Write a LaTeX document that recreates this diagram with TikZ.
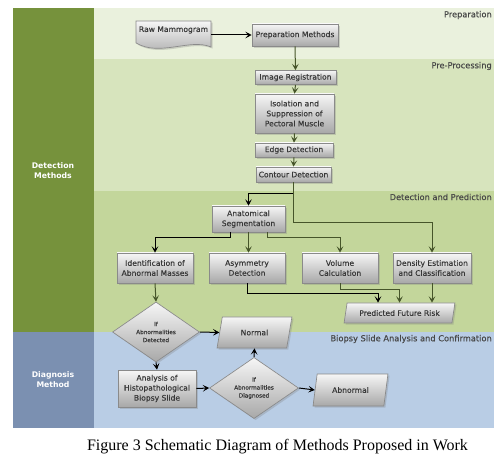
\documentclass[tikz,border=0pt]{standalone}
\usepackage{fontspec}
\setmainfont{DejaVu Sans}
\newfontfamily\semib{DejaVu Sans}[FakeBold=0.25]
\newfontfamily\capfont{Liberation Serif}
\usetikzlibrary{shapes.geometric,shadows,arrows.meta,calc}
\definecolor{bandprep}{HTML}{EAF1DD}
\definecolor{bandpre}{HTML}{D7E4BD}
\definecolor{banddet}{HTML}{C3D69B}
\definecolor{bandbio}{HTML}{B9CDE5}
\definecolor{leftgreen}{HTML}{76923C}
\definecolor{leftblue}{HTML}{7B90B1}
\definecolor{boxtop}{HTML}{F6F6F6}
\definecolor{boxbot}{HTML}{A8A8A8}
\definecolor{boxborder}{HTML}{8A8A8A}
\definecolor{nodetext}{HTML}{383838}
\definecolor{lbltext}{HTML}{474747}
\definecolor{lineol}{HTML}{46552A}
\begin{document}
\begin{tikzpicture}[x=0.75pt,y=-0.75pt,
  arr/.style={-{Stealth[length=4.8pt,width=5pt,inset=2.2pt]}, line width=0.75pt, draw=lineol},
  arrk/.style={arr, draw=black},
  shad/.style={drop shadow={opacity=0.3,shadow xshift=1.2pt,shadow yshift=-1.2pt}},
  box/.style={rectangle, draw=boxborder, line width=0.5pt, top color=boxtop, bottom color=boxbot, shad,
    font=\semib\fontsize{5.7}{7.5}\selectfont, text=nodetext, align=center, inner sep=0.5pt},
  para/.style={box, trapezium, trapezium left angle=72, trapezium right angle=108, trapezium stretches=true},
  dia/.style={box, diamond, font=\semib\fontsize{4.3}{6}\selectfont, inner sep=0pt},
  bandlbl/.style={anchor=east, font=\semib\fontsize{6.2}{7.5}\selectfont, text=lbltext, inner sep=0pt},
  sidelbl/.style={font=\bfseries\fontsize{5.8}{7.5}\selectfont, text=white, align=center, inner sep=0pt}
]
\useasboundingbox (0,0) rectangle (503,459);
% bands
\fill[leftgreen] (13,8) rectangle (94,332);
\fill[leftblue] (13,332) rectangle (94,428);
\fill[bandprep] (94,8) rectangle (494,59);
\fill[bandpre] (94,59) rectangle (494,191);
\fill[banddet] (94,191) rectangle (494,332);
\fill[bandbio] (94,332) rectangle (494,428);
\node[bandlbl] (lprep) at (492,15) {Preparation};
\node[bandlbl] (lpre) at (492,66) {Pre-Processing};
\node[bandlbl] (ldet) at (492,197) {Detection and Prediction};
\node[bandlbl] (lbio) at (492,339) {Biopsy Slide Analysis and Confirmation};
\node[sidelbl] (sdet) at (53,171) {Detection\\Methods};
\node[sidelbl] (sdia) at (53,380) {Diagnosis\\Method};
% raw mammogram document shape
\shade[draw=boxborder, line width=0.5pt, top color=boxtop, bottom color=boxbot, shad]
  (136,21) -- (211,21) -- (211,47) .. controls (190,38) and (160,57) .. (136,43) -- cycle;
\node[font=\semib\fontsize{5.7}{7.5}\selectfont, text=nodetext, minimum width=56.25pt, inner sep=0pt] (raw) at (173.5,30) {Raw Mammogram};
% nodes
\node[box, minimum width=64.5pt, minimum height=16.5pt] (prep) at (295,35) {Preparation Methods};
\node[box, minimum width=60.75pt, minimum height=10.5pt] (imgreg) at (295.5,77.5) {Image Registration};
\node[box, minimum width=59.25pt, minimum height=29.25pt] (iso) at (294.5,113.5) {Isolation and\\Suppression of\\Pectoral Muscle};
\node[box, minimum width=58.5pt, minimum height=10.5pt] (edge) at (294,150) {Edge Detection};
\node[box, minimum width=56.25pt, minimum height=11.25pt] (contour) at (293.5,174.5) {Contour Detection};
\node[box, minimum width=54.75pt, minimum height=19.5pt] (anat) at (248.5,219) {Anatomical\\Segmentation};
\node[box, minimum width=57pt, minimum height=22.5pt] (ident) at (155,268) {Identification of\\Abnormal Masses};
\node[box, minimum width=57pt, minimum height=22.5pt] (asym) at (247,268) {Asymmetry\\Detection};
\node[box, minimum width=57pt, minimum height=22.5pt] (vol) at (340,268) {Volume\\Calculation};
\node[box, minimum width=58.5pt, minimum height=22.5pt] (dens) at (432,268) {Density Estimation\\and Classification};
\node[para, minimum width=83.25pt, minimum height=15pt] (pred) at (399.5,313) {Predicted Future Risk};
\node[dia, minimum width=65.25pt, minimum height=37.5pt] (d1) at (156,332) {If\\Abnormalities\\Detected};
\node[para, minimum width=56.25pt, minimum height=23.25pt] (normal) at (254.5,332.5) {Normal};
\node[box, minimum width=58.5pt, minimum height=27.75pt] (anal) at (157,388.5) {Analysis of\\Histopathological\\Biopsy Slide};
\node[dia, minimum width=66.75pt, minimum height=34.5pt] (d2) at (254,388) {If\\Abnormalities\\Diagnosed};
\node[para, minimum width=56.25pt, minimum height=24pt] (abn) at (350.5,390) {Abnormal};
% connectors
\draw[arrk] ([yshift=-3.75pt]raw.east) -- (prep.west);
\draw[arr] (prep.south) -- (imgreg.north);
\draw[arr] (imgreg.south) -- (iso.north);
\draw[arr] (iso.south) -- (edge.north);
\draw[arr] (edge.south) -- (contour.north);
\draw[arrk] (contour.south) -- ++(0,11) -| (anat.north);
\draw[arr] (contour.south) -- ++(0,40) -| (dens.north);
\draw[arrk] ($(anat.south)+(-18,0)$) -- ++(0,5) -| (ident.north);
\draw[arr] (anat.south) -- (anat.south |- asym.north);
\draw[arr] ($(anat.south)+(18.5,0)$) -- ++(0,5) -| (vol.north);
\draw[arrk] (asym.south) -- ++(0,10) -| ($(pred.north)+(-21.5,0)$);
\draw[arr] (vol.south) -- ++(0,6) -| (pred.north);
\draw[arr] (dens.south) -- (dens.south |- pred.north);
\draw[arr] (ident.south) -- (d1.north);
\draw[arrk] (d1.east) -- (normal.west);
\draw[arrk] (d1.south) -- (anal.north);
\draw[arrk] (anal.east) -- (d2.west);
\draw[arrk] (d2.north) -- (normal.south);
\draw[arrk] (d2.east) -- (abn.west);
% caption
\node[font=\capfont\fontsize{12}{14}\selectfont, inner sep=0pt] (cap) at (277.5,447) {Figure 3 Schematic Diagram of Methods Proposed in Work};
\end{tikzpicture}
\end{document}
